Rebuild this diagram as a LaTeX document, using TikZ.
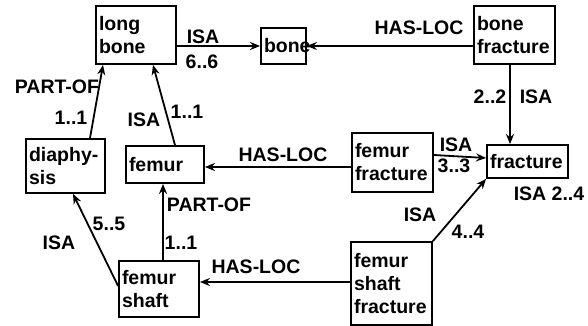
\documentclass[tikz,border=0pt]{standalone}
\usepackage{fontspec}
\setmainfont{Liberation Sans}
\usetikzlibrary{arrows.meta,calc}
\begin{document}
\begin{tikzpicture}[x=1pt,y=-1pt,
  txt/.style={font=\bfseries\fontsize{19.5}{23}\selectfont},
  box/.style={txt, draw, line width=1.8pt, inner xsep=3pt, inner ysep=0pt, align=left},
  lbl/.style={txt, inner sep=0pt},
  arr/.style={line width=1.8pt, -{Stealth[length=10pt,width=8pt]}}]
\useasboundingbox (0,0) rectangle (588,326);
% boxes
\node[box, text width=74pt, minimum height=58pt] (longbone) at (136,35) {long\\bone};
\node[box, text width=39pt, minimum height=36pt] (bone) at (283.5,46) {bone};
\node[box, text width=75pt, minimum height=58pt] (bonefracture) at (514.5,35) {bone\\fracture};
\node[box, text width=75pt, minimum height=33pt] (fracture) at (527.5,161.5) {fracture};
\node[box, text width=75pt, minimum height=59pt] (femurfracture) at (392.5,162.5) {femur\\fracture};
\node[box, text width=72pt, minimum height=37pt] (femur) at (165,164.5) {femur};
\node[box, text width=73pt, minimum height=54pt] (diaphysis) at (65.5,166) {diaphy-\\sis};
\node[box, text width=74pt, minimum height=56pt] (femurshaft) at (159,289) {femur\\shaft};
\node[box, text width=75pt, minimum height=83pt] (femurshaftfracture) at (391.5,283.5) {femur\\shaft\\fracture};
% connectors
\draw[arr] ($(longbone.east)+(0,11)$) -- (bone.west);
\draw[arr] ($(bonefracture.west)+(0,11)$) -- (bone.east);
\draw[arr] ($(bonefracture.south)+(-4.5,0)$) -- ($(fracture.north)+(-17.5,0)$);
\draw[arr] ($(femurfracture.east)+(0,-7.5)$) -- ($(fracture.west)+(0,-3.5)$);
\draw[arr] ($(femurfracture.west)+(0,4.5)$) -- ($(femur.east)+(0,2.5)$);
\draw[arr] ($(femur.north)+(10,0)$) -- ($(longbone.south)+(17,0)$);
\draw[arr] ($(diaphysis.north)+(24.5,0)$) -- ($(longbone.south)+(-33,0)$);
\draw[arr] ($(femurshaft.north)+(4,0)$) -- ($(femur.south)+(-2,0)$);
\draw[arr] ($(femurshaft.west)+(0,-3)$) -- ($(diaphysis.south)+(7.5,0)$);
\draw[arr] ($(femurshaftfracture.west)+(0,-1.5)$) -- ($(femurshaft.east)+(0,-7)$);
\draw[arr] (femurshaftfracture.north east) -- (fracture.south west);
% labels
\node[lbl] (l1) at (203,37) {ISA};
\node[lbl] (l2) at (202,62) {6..6};
\node[lbl] (l3) at (419,28) {HAS-LOC};
\node[lbl] (l4) at (490,97) {2..2};
\node[lbl] (l5) at (536,97) {ISA};
\node[lbl] (l6) at (456,145) {ISA};
\node[lbl] (l7) at (454,166) {3..3};
\node[lbl] (l8) at (283,155) {HAS-LOC};
\node[lbl] (l9) at (549,194) {ISA 2..4};
\node[lbl] (l10) at (144,120) {ISA};
\node[lbl] (l11) at (187,112) {1..1};
\node[lbl] (l12) at (57,87) {PART-OF};
\node[lbl] (l13) at (71,118) {1..1};
\node[lbl] (l14) at (209,205) {PART-OF};
\node[lbl] (l15) at (181,243) {1..1};
\node[lbl] (l16) at (59,243) {ISA};
\node[lbl] (l17) at (109,224) {5..5};
\node[lbl] (l18) at (256,267) {HAS-LOC};
\node[lbl] (l19) at (420,215) {ISA};
\node[lbl] (l20) at (468,232) {4..4};
\end{tikzpicture}
\end{document}
